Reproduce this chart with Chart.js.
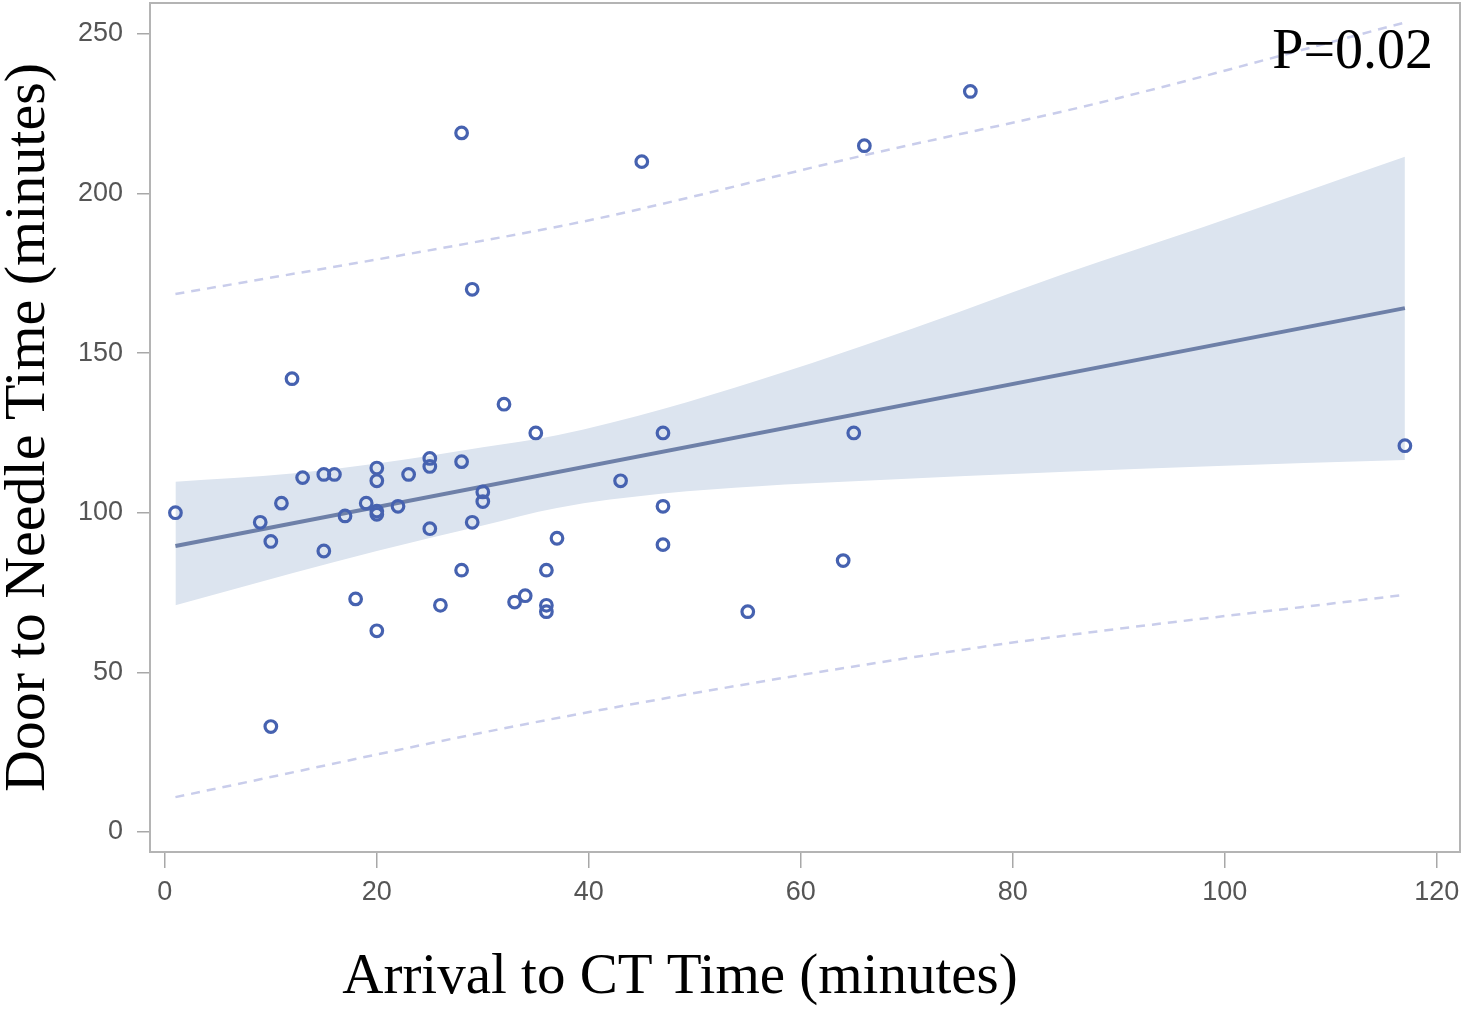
<!DOCTYPE html>
<html>
<head>
<meta charset="utf-8">
<script src="https://cdn.jsdelivr.net/npm/chart.js@4.4.1/dist/chart.umd.min.js"></script>
<style>
  body { margin: 0; background: #fff; }
</style>
</head>
<body>
<canvas id="ctChart" width="1464" height="1009"></canvas>
<script>
// observed points
const arrivalCT = [1, 9, 10, 10, 11, 12, 13, 15, 16, 15, 17, 18, 19, 20, 20, 20, 20, 20, 22, 23,
  25, 25, 25, 26, 28, 28, 28, 29, 29, 30, 30, 32, 33, 34, 35, 36, 36, 36, 37, 43,
  45, 47, 47, 47, 55, 64, 65, 66, 76, 117];
const doorNeedle = [100, 97, 91, 33, 103, 142, 111, 112, 112, 88, 99, 73, 103, 114, 110, 100.5, 99.5, 63, 102, 112,
  117, 114.5, 95, 71, 219, 116, 82, 170, 97, 106.5, 103.5, 134, 72, 74, 125, 82, 71, 69, 92, 110,
  210, 125, 102, 90, 69, 85, 125, 215, 232, 121];

// fitted line
const fitX = [1, 117];
const fitY = [89.6, 164.1];

// 95% confidence band
const bandX = [1, 12, 20, 30, 37, 47, 56, 66, 75, 85, 98, 117];
const bandUpper = [109.7, 112.3, 115.4, 120.5, 124.3, 132.5, 141.5, 152.5, 163, 175, 189.5, 211.5];
const bandLower = [71, 81, 88, 96, 101.5, 106, 108.3, 110, 111.4, 112.8, 114.5, 116.5];

// 95% prediction limits
const predUpX = [1, 31.6, 41, 66, 88, 117];
const predUpY = [168.5, 186.2, 192.3, 212, 228.3, 253.6];
const predLoX = [1, 37.7, 76.8, 117];
const predLoY = [10.9, 36.1, 57.8, 74.3];

const xTicks = [0, 20, 40, 60, 80, 100, 120];
const yTicks = [0, 50, 100, 150, 200, 250];

const pValue = "P=0.02";
const xTitle = "Arrival to CT Time (minutes)";
const yTitle = "Door to Needle Time (minutes)";

const pts = (xs, ys) => xs.map((x, i) => ({ x: x, y: ys[i] }));

const serif = "'Liberation Serif', 'Times New Roman', serif";
const tickFont = { family: "'Liberation Sans', Arial, sans-serif", size: 27 };

const framePlugin = {
  id: "frame",
  afterDraw(chart) {
    const { ctx, chartArea: a } = chart;
    ctx.save();
    ctx.strokeStyle = "#b4b4b4";
    ctx.lineWidth = 2;
    ctx.strokeRect(a.left, a.top, a.right - a.left, a.bottom - a.top);
    ctx.fillStyle = "#000";
    ctx.font = "56px " + serif;
    ctx.textAlign = "right";
    ctx.textBaseline = "alphabetic";
    ctx.fillText(pValue, a.right - 27, a.top + 65);
    ctx.font = "57px " + serif;
    ctx.textAlign = "center";
    ctx.textBaseline = "middle";
    ctx.fillText(xTitle, 680, 978);
    ctx.restore();
  }
};

new Chart(document.getElementById("ctChart"), {
  type: "scatter",
  data: {
    datasets: [
      {
        label: "Observed",
        data: pts(arrivalCT, doorNeedle),
        pointStyle: "circle",
        pointRadius: 5.8,
        pointBorderWidth: 3.2,
        pointBorderColor: "#4662b0",
        pointBackgroundColor: "rgba(0,0,0,0)",
        order: 0
      },
      {
        label: "Fit",
        data: pts(fitX, fitY),
        showLine: true,
        borderColor: "#6e80a8",
        borderWidth: 4,
        pointRadius: 0,
        order: 1
      },
      {
        label: "Upper prediction",
        data: pts(predUpX, predUpY),
        showLine: true,
        cubicInterpolationMode: "monotone",
        borderColor: "#c9cdeb",
        borderWidth: 2.5,
        borderDash: [9, 7],
        pointRadius: 0,
        order: 2
      },
      {
        label: "Lower prediction",
        data: pts(predLoX, predLoY),
        showLine: true,
        cubicInterpolationMode: "monotone",
        borderColor: "#c9cdeb",
        borderWidth: 2.5,
        borderDash: [9, 7],
        pointRadius: 0,
        order: 2
      },
      {
        label: "Upper confidence",
        data: pts(bandX, bandUpper),
        showLine: true,
        cubicInterpolationMode: "monotone",
        borderWidth: 0,
        borderColor: "rgba(0,0,0,0)",
        backgroundColor: "#dce4ef",
        fill: 5,
        pointRadius: 0,
        order: 3
      },
      {
        label: "Lower confidence",
        data: pts(bandX, bandLower),
        showLine: true,
        cubicInterpolationMode: "monotone",
        borderWidth: 0,
        borderColor: "rgba(0,0,0,0)",
        pointRadius: 0,
        order: 3
      }
    ]
  },
  options: {
    responsive: false,
    animation: false,
    layout: { autoPadding: false, padding: { top: 3, right: 4, left: 0, bottom: 0 } },
    plugins: {
      legend: { display: false },
      tooltip: { enabled: false }
    },
    scales: {
      x: {
        type: "linear",
        min: -1.4,
        max: 122.2,
        afterFit(scale) {
          scale.height = 157;
          scale.paddingLeft = 0;
          scale.paddingRight = 0;
        },
        afterBuildTicks(axis) { axis.ticks = xTicks.map(v => ({ value: v })); },
        border: { display: false },
        grid: { drawOnChartArea: false, drawTicks: true, tickLength: 16, color: "#a8a8a8", lineWidth: 1.5 },
        ticks: { color: "#555", font: tickFont, padding: 8, maxRotation: 0 },
        title: { display: false }
      },
      y: {
        type: "linear",
        min: -6.3,
        max: 259.7,
        afterFit(scale) {
          scale.width = 150;
          scale.paddingTop = 0;
          scale.paddingBottom = 0;
        },
        afterBuildTicks(axis) { axis.ticks = yTicks.map(v => ({ value: v })); },
        border: { display: false },
        grid: { drawOnChartArea: false, drawTicks: true, tickLength: 13, color: "#a8a8a8", lineWidth: 1.5 },
        ticks: { color: "#555", font: tickFont, padding: 14 },
        title: {
          display: true,
          text: yTitle,
          color: "#000",
          font: { family: serif, size: 58, lineHeight: 1.0 },
          padding: 0
        }
      }
    }
  },
  plugins: [framePlugin]
});
</script>
</body>
</html>
